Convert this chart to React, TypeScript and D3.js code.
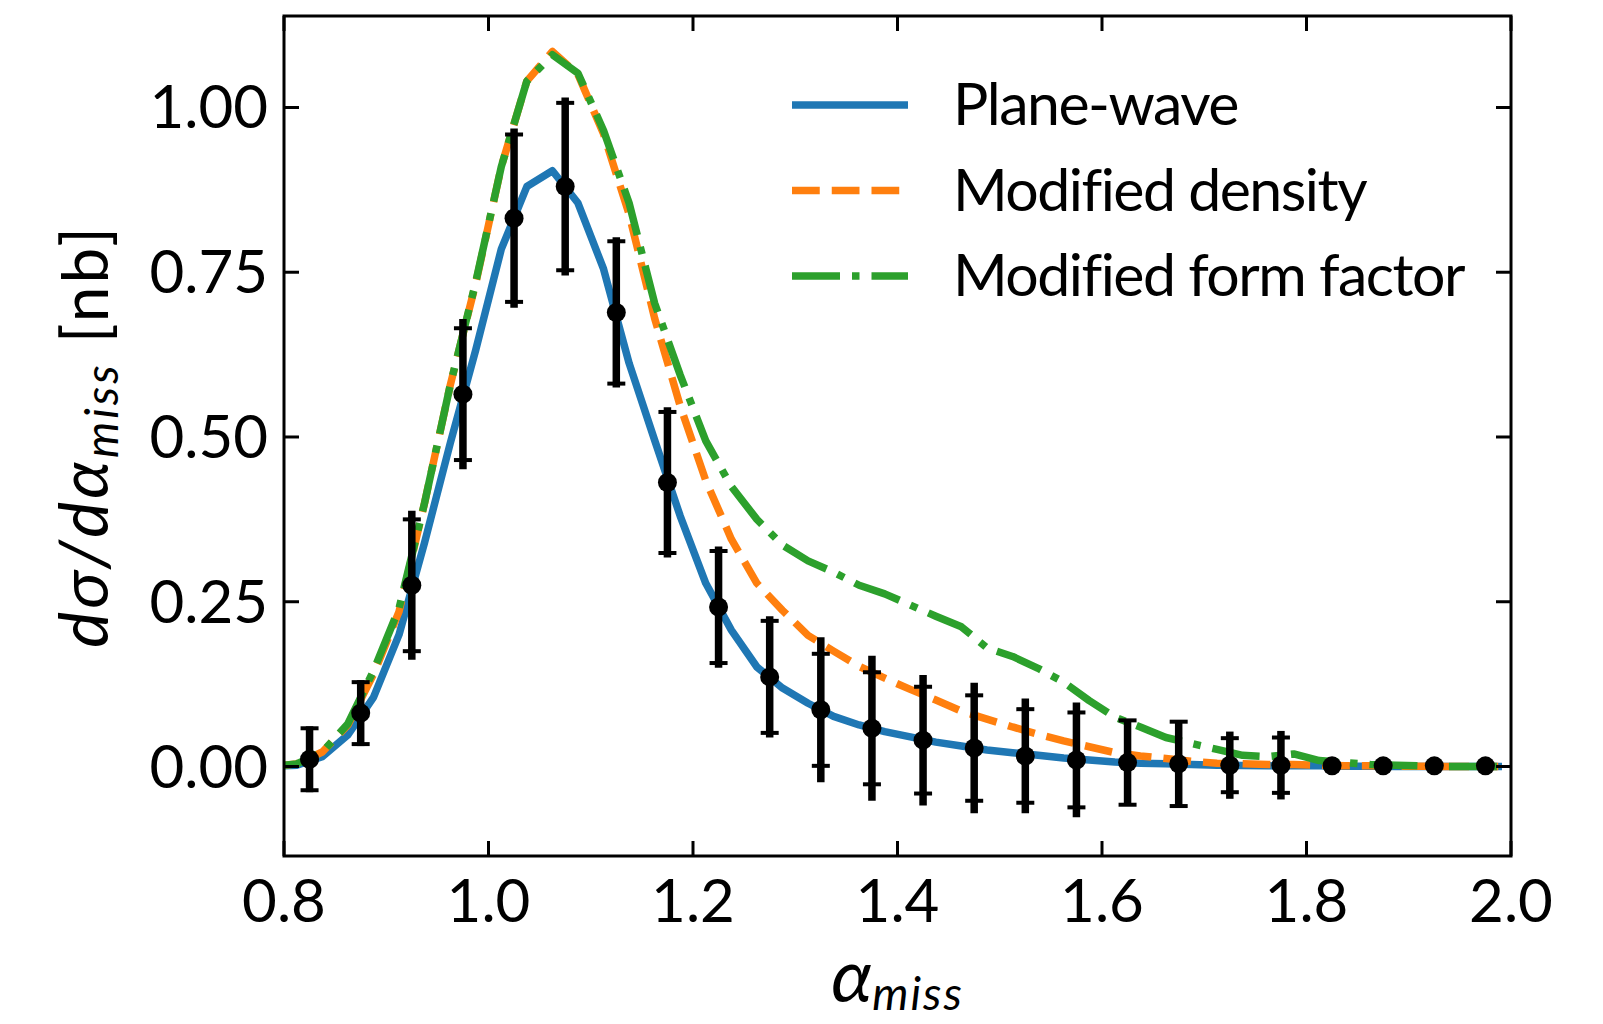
import React from 'react';
import * as d3 from 'd3';

// model curves, sampled on the bin grid
const curveX = [
  0.7875, 0.8125, 0.8375, 0.8625, 0.8875, 0.9125, 0.9375, 0.9625, 0.9875, 1.0125,
  1.0375, 1.0625, 1.0875, 1.1125, 1.1375, 1.1625, 1.1875, 1.2125, 1.2375, 1.2625,
  1.2875, 1.3125, 1.3375, 1.3625, 1.3875, 1.4125, 1.4375, 1.4625, 1.4875, 1.5125,
  1.5375, 1.5625, 1.5875, 1.6125, 1.6375, 1.6625, 1.6875, 1.7125, 1.7375, 1.7625,
  1.7875, 1.8125, 1.8375, 1.8625, 1.8875, 1.9125, 1.9375, 1.9625, 1.9875,
];
const planeWave = [
  0.000, 0.002, 0.015, 0.048, 0.105, 0.200, 0.340, 0.490, 0.632, 0.785,
  0.880, 0.904, 0.855, 0.755, 0.612, 0.495, 0.380, 0.278, 0.207, 0.151,
  0.119, 0.096, 0.076, 0.063, 0.053, 0.045, 0.037, 0.031, 0.025, 0.021,
  0.017, 0.013, 0.010, 0.007, 0.005, 0.004, 0.003, 0.002, 0.0015, 0.001,
  0.001, 0.001, 0.0005, 0.0005, 0, 0, 0, 0, 0,
];
const modDensity = [
  0.000, 0.004, 0.022, 0.063, 0.140, 0.235, 0.400, 0.578, 0.733, 0.910,
  1.040, 1.085, 1.050, 0.960, 0.838, 0.680, 0.547, 0.434, 0.345, 0.278,
  0.237, 0.199, 0.175, 0.152, 0.134, 0.117, 0.101, 0.084, 0.072, 0.060,
  0.049, 0.039, 0.030, 0.021, 0.016, 0.012, 0.008, 0.005, 0.004, 0.003,
  0.003, 0.002, 0.001, 0.001, 0.0005, 0.0005, 0, 0, 0,
];
const modFormFactor = [
  0.000, 0.004, 0.022, 0.065, 0.145, 0.240, 0.400, 0.578, 0.735, 0.910,
  1.040, 1.080, 1.052, 0.965, 0.855, 0.703, 0.594, 0.494, 0.425, 0.375,
  0.336, 0.312, 0.295, 0.275, 0.262, 0.245, 0.228, 0.212, 0.180, 0.167,
  0.149, 0.128, 0.100, 0.075, 0.060, 0.044, 0.035, 0.026, 0.017, 0.015,
  0.019, 0.009, 0.006, 0.003, 0.002, 0.001, 0, 0, 0,
];

// measured points
const dataX = [
  0.825, 0.875, 0.925, 0.975, 1.025, 1.075, 1.125, 1.175, 1.225, 1.275, 1.325, 1.375,
  1.425, 1.475, 1.525, 1.575, 1.625, 1.675, 1.725, 1.775, 1.825, 1.875, 1.925, 1.975,
];
const dataY = [
  0.011, 0.081, 0.275, 0.565, 0.832, 0.880, 0.689, 0.431, 0.242, 0.136, 0.086, 0.058,
  0.040, 0.028, 0.016, 0.010, 0.006, 0.004, 0.002, 0.002, 0.001, 0.001, 0.001, 0.001,
];
const errStat = [
  0.047, 0.047, 0.100, 0.100, 0.127, 0.127, 0.108, 0.107, 0.085, 0.085, 0.085, 0.085,
  0.081, 0.080, 0.071, 0.072, 0.064, 0.064, 0.041, 0.042, 0, 0, 0, 0,
];
const errTotal = [
  0.050, 0.050, 0.113, 0.114, 0.136, 0.135, 0.114, 0.114, 0.092, 0.092, 0.110, 0.110,
  0.099, 0.099, 0.087, 0.087, 0.064, 0.064, 0.051, 0.052, 0, 0, 0, 0,
];

const xTicks = [0.8, 1.0, 1.2, 1.4, 1.6, 1.8, 2.0];
const yTicks = [0, 0.25, 0.5, 0.75, 1.0];
const seriesNames = ['Plane-wave', 'Modified density', 'Modified form factor'];
const seriesColors = ['#1f77b4', '#ff7f0e', '#2ca02c'];
const seriesDash = ['none', '27.75 12', '48 12 7.5 12'];

const W = 1603, H = 1024;
const box = { left: 284, right: 1511, top: 16, bottom: 856 };
const font = 'Lato, "DejaVu Sans", sans-serif';
const LW = 7.5;

export default function App() {
  const x = d3.scaleLinear().domain([0.8, 2.0]).range([box.left, box.right]);
  const y = d3.scaleLinear().domain([-0.1358, 1.1388]).range([box.bottom, box.top]);

  const line = d3.line<number>()
    .x((_, i) => x(curveX[i]))
    .y(d => y(d));

  const series = [planeWave, modDensity, modFormFactor];
  const fmtX = d3.format('.1f');
  const fmtY = d3.format('.2f');
  const tickLen = 15;

  return (
    <svg width={W} height={H} style={{ position: 'absolute', left: 0, top: 0, background: '#fff' }}
      fontFamily={font}>
      <defs>
        <clipPath id="plotArea">
          <rect x={box.left} y={box.top} width={box.right - box.left} height={box.bottom - box.top} />
        </clipPath>
      </defs>
      <rect width={W} height={H} fill="#fff" />

      {/* curves */}
      <g clipPath="url(#plotArea)">
        {series.map((s, i) => (
          <path key={i} d={line(s) || ''} fill="none" stroke={seriesColors[i]} strokeWidth={LW}
            strokeDasharray={seriesDash[i]} strokeLinejoin="round"
            strokeLinecap={i === 0 ? 'square' : 'butt'} />
        ))}
      </g>

      {/* data with error bars */}
      <g>
        {dataX.map((dx, i) => {
          const cx = x(dx);
          return (
            <g key={i}>
              {errTotal[i] > 0 && (
                <line x1={cx} x2={cx} y1={y(dataY[i] - errTotal[i])} y2={y(dataY[i] + errTotal[i])}
                  stroke="#000" strokeWidth={7.5} />
              )}
              {errStat[i] > 0 && [dataY[i] - errStat[i], dataY[i] + errStat[i]].map((v, k) => (
                <line key={k} x1={cx - 9} x2={cx + 9} y1={y(v)} y2={y(v)} stroke="#000" strokeWidth={4} />
              ))}
              <circle cx={cx} cy={y(dataY[i])} r={9.5} fill="#000" />
            </g>
          );
        })}
      </g>

      {/* axes frame and ticks */}
      <g stroke="#000" strokeWidth={3}>
        {xTicks.map(t => (
          <g key={'x' + t}>
            <line x1={x(t)} x2={x(t)} y1={box.bottom} y2={box.bottom - tickLen} />
            <line x1={x(t)} x2={x(t)} y1={box.top} y2={box.top + tickLen} />
          </g>
        ))}
        {yTicks.map(t => (
          <g key={'y' + t}>
            <line x1={box.left} x2={box.left + tickLen} y1={y(t)} y2={y(t)} />
            <line x1={box.right} x2={box.right - tickLen} y1={y(t)} y2={y(t)} />
          </g>
        ))}
        <rect x={box.left} y={box.top} width={box.right - box.left} height={box.bottom - box.top}
          fill="none" strokeLinejoin="miter" />
      </g>

      {/* tick labels */}
      <g fontSize={60} fill="#000">
        {xTicks.map(t => (
          <text key={'xl' + t} x={x(t)} y={922} textAnchor="middle">{fmtX(t)}</text>
        ))}
        {yTicks.map(t => (
          <text key={'yl' + t} x={268} y={y(t) + 21} textAnchor="end">{fmtY(t)}</text>
        ))}
      </g>

      {/* axis labels */}
      <text x={(box.left + box.right) / 2} y={1002} textAnchor="middle" fontSize={74} fontStyle="italic">
        α<tspan fontSize={46} dy={8} letterSpacing={2}>miss</tspan>
      </text>
      <text transform={`translate(108, ${(box.top + box.bottom) / 2}) rotate(-90)`} textAnchor="middle"
        fontSize={64} letterSpacing={3}>
        <tspan fontStyle="italic" fontSize={68}>dσ/dα</tspan>
        <tspan fontStyle="italic" fontSize={46} dy={10}>miss</tspan>
        <tspan dy={-10}> [nb]</tspan>
      </text>

      {/* legend */}
      <g>
        {seriesNames.map((name, i) => {
          const ly = 105 + i * 85.5;
          return (
            <g key={name}>
              <line x1={792} x2={908} y1={ly} y2={ly} stroke={seriesColors[i]} strokeWidth={LW}
                strokeDasharray={seriesDash[i]} strokeLinecap="butt" />
              <text x={953} y={ly + 20} fontSize={59} letterSpacing={-1.5} fill="#000">{name}</text>
            </g>
          );
        })}
      </g>
    </svg>
  );
}
